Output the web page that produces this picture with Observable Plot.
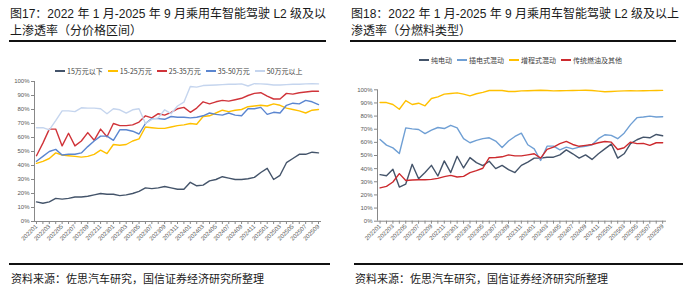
<!DOCTYPE html>
<html><head><meta charset="utf-8">
<script src="https://cdn.jsdelivr.net/npm/d3@7"></script>
<script src="https://cdn.jsdelivr.net/npm/@observablehq/plot@0.6"></script>
<style>
body{margin:0;background:#fff;}
#root{position:relative;width:691px;height:300px;overflow:hidden;font-family:"Liberation Sans","Noto Sans CJK SC",sans-serif;}
.title{position:absolute;font-size:12px;line-height:17px;color:#1a1a1a;white-space:nowrap;}
.rule{position:absolute;height:1.5px;background:#111;}
.src{position:absolute;font-size:11px;color:#1a1a1a;white-space:nowrap;font-family:"Noto Sans CJK SC",sans-serif;}
.legend{position:absolute;display:flex;align-items:center;font-size:7px;color:#404040;white-space:nowrap;font-family:"Noto Sans CJK SC",sans-serif;}
.legend .it{display:flex;align-items:center;margin-right:5px;}
.legend .sw{display:inline-block;width:10px;height:1.6px;margin-right:2px;}
.chart{position:absolute;}
</style>
</head><body>
<div id="root"></div>
<script>
const months = ["202201","202202","202203","202204","202205","202206","202207","202208","202209","202210","202211","202212",
"202301","202302","202303","202304","202305","202306","202307","202308","202309","202310","202311","202312",
"202401","202402","202403","202404","202405","202406","202407","202408","202409","202410","202411","202412",
"202501","202502","202503","202504","202505","202506","202507","202508","202509"];
const yTicks = [0,10,20,30,40,50,60,70,80,90,100];

// Left chart: by price band
const priceNames = ["15万元以下","15-25万元","25-35万元","35-50万元","50万元以上"];
const priceColors = ["#44546a","#ffc000","#d0343a","#5b86d0","#c5d5ee"];
const pUnder15 = [14,13,14,16.5,16,16.5,17.5,17.5,18,19,20,19.5,19.5,18.5,19,20,21.5,24,23.5,24,25,24,23,23,28,25.5,26,29,30,32,31,30,30,30.5,31.5,35,38,30,33,42,45,48,48,49.5,49];
const p15to25 = [41.5,43,45,49,47.5,47,46.5,46,46.5,48,51,48.5,55,54.5,55,57.5,59,67.5,67,66.5,66.5,67.5,68.5,69,70,69.5,75,75.5,77.5,79.5,78.5,79.5,80,82,82.5,83,82.5,84,83,81,80,79,77.5,79.5,80];
const p25to35 = [47,56,66,66,54,63,54,57.5,63.5,58,66,60.5,70,68.5,68.5,69,71,75.5,74,77,76,78,80.5,81.5,78,81,85.5,84,85.5,86.5,86,87,88,90,91.5,92,89.5,87.5,87.5,91.5,91,92,92.5,93,93];
const p35to50 = [43,46.5,50,51.5,47.5,48,48,49,53.5,57.5,61,61,58,65.5,65.5,64.5,62.5,70,73.5,73.5,73,75,74.5,74.5,74,74.5,75.5,77.5,76.5,76,77.5,76,75.5,80.5,80.5,81.5,76.5,78,77.5,83,84.5,84,86.5,85.5,83.5];
const pOver50 = [67,67,65.5,72,79,79,78.5,81.2,81,81,80.5,77,80.5,79.8,77.4,79.8,80.5,70,73,74,79.8,77,82.5,85.2,96.4,96,97.1,97.3,97.5,97.8,98,98,98.3,96.8,98.5,98.3,98,97.5,97.5,97.8,98,98,98.3,98.5,98.3];

// Right chart: by fuel type
const fuelNames = ["纯电动","插电式混动","增程式混动","传统燃油及其他"];
const fuelColors = ["#44546a","#6f9fd4","#ffc000","#cc2a2e"];
const fBEV = [35.4,34.6,39.5,26,28.3,43.3,32.3,37,42.5,34.4,45.9,37,49.4,40.5,48.4,44.6,42.3,45.6,40,42.5,39.2,37,42.5,45,48,48,48.7,48.7,50.5,54.3,51.3,48,50.5,47,51.3,55,58.7,48,51.3,59,62,64,63.5,66,65];
const fPHEV = [62.2,57.9,55.8,51.5,71,70.3,69.8,66.7,69.3,71.3,70.5,73,71,62.8,59.7,61.5,62.8,63.5,61,56.1,61,64.5,67,58.2,55,46.2,57.1,57.1,54.3,56.4,55,56.4,57,58.2,62.8,65.8,65.3,62.8,67,73.5,78.8,79.3,80,79.3,79.5];
const fEREV = [90.3,90.3,88.8,85.2,91.8,88.8,89.8,87.8,93.4,94.6,96.7,97.2,97.7,96.7,95.4,97,98,99.5,99.5,99.5,98.7,98.7,99.2,99.3,99.5,99.7,99.5,99.2,99.3,99.4,99.5,99.6,99.7,99.5,99,98.5,98.7,99,99.2,99.3,99.2,99.3,99.4,99.5,99.6];
const fICE = [25.4,26.5,29.8,36.2,31,31.3,31.6,31.6,31.8,32.6,33.9,34.9,33.6,34.1,37,38.5,40.3,48.3,48.5,49,50.5,49.7,49.7,50.5,51.3,48,54.6,56.4,59,60.7,58.4,57,57.7,58.4,59.7,60.7,60.2,54.6,55.9,60.2,59,59.2,57.7,59.7,59.7];

const texts = {
  t17a: "图17：2022 年 1 月-2025 年 9 月乘用车智能驾驶 L2 级及以",
  t17b: "上渗透率（分价格区间）",
  t18a: "图18：2022 年 1 月-2025 年 9 月乘用车智能驾驶 L2 级及以上",
  t18b: "渗透率（分燃料类型）",
  src: "资料来源：佐思汽车研究，国信证券经济研究所整理"
};

const root = document.getElementById("root");
function el(cls, css, html){const d=document.createElement("div");d.className=cls;Object.assign(d.style,css);if(html!=null)d.innerHTML=html;root.appendChild(d);return d;}

el("title",{left:"10px",top:"6px"},texts.t17a+"<br>"+texts.t17b);
el("title",{left:"351px",top:"6px"},texts.t18a+"<br>"+texts.t18b);
el("rule",{left:"9px",top:"40px",width:"317px"});
el("rule",{left:"350px",top:"40px",width:"326px"});
el("rule",{left:"9px",top:"263px",width:"321px"});
el("rule",{left:"354px",top:"263px",width:"329px"});
el("src",{left:"11px",top:"270px"},texts.src);
el("src",{left:"355px",top:"270px"},texts.src);

function legend(names, colors, css){
  const d = el("legend", css);
  names.forEach((n,k)=>{
    const it=document.createElement("span");it.className="it";
    it.innerHTML=`<span class="sw" style="background:${colors[k]}"></span>${n}`;
    d.appendChild(it);
  });
}
legend(priceNames, priceColors, {left:"55px",top:"66px"});
legend(fuelNames, fuelColors, {left:"419px",top:"55px"});

function makeChart(seriesList, names, colors, cfg){
  const data = [];
  seriesList.forEach((arr,k)=>arr.forEach((v,i)=>data.push({i, v, s:names[k]})));
  const idx = months.map((m,i)=>i);
  const p = Plot.plot({
    width: cfg.width, height: cfg.height,
    marginLeft: cfg.ml, marginRight: cfg.mr, marginTop: cfg.mt, marginBottom: cfg.mb,
    x: {domain: cfg.xd},
    y: {domain: [0,100]},
    color: {domain: names, range: colors},
    style: {fontFamily: '"Liberation Sans", sans-serif', fontSize: "6px", color: "#595959", background: "transparent", overflow: "visible"},
    marks: [
      Plot.axisY({ticks: yTicks, tickFormat: d => d + "%", tickSize: 3, tickPadding: 2, stroke: "#888", label: null}),
      Plot.axisX({ticks: idx, tickFormat: i => i % 2 === 0 ? months[i] : "", tickRotate: -45, tickSize: 3, tickPadding: 1, stroke: "#888", label: null}),
      Plot.ruleY([0], {stroke: "#888"}),
      Plot.ruleX([cfg.xd[0]], {stroke: "#888"}),
      Plot.line(data, {x: "i", y: "v", z: "s", stroke: "s", strokeWidth: 1.4, curve: "linear"})
    ]
  });
  const wrap = el("chart", {left: cfg.left+"px", top: cfg.top+"px"});
  wrap.appendChild(p);
}

makeChart([pUnder15,p15to25,p25to35,p35to50,pOver50], priceNames, priceColors,
  {left:0, top:75, width:345, height:175, ml:34, mr:24, mt:6, mb:29, xd:[-0.31,44.47]});
makeChart([fBEV,fPHEV,fEREV,fICE], fuelNames, fuelColors,
  {left:345, top:75, width:346, height:175, ml:32, mr:25, mt:14.3, mb:29.3, xd:[-0.4,44.6]});
</script>
</body></html>
